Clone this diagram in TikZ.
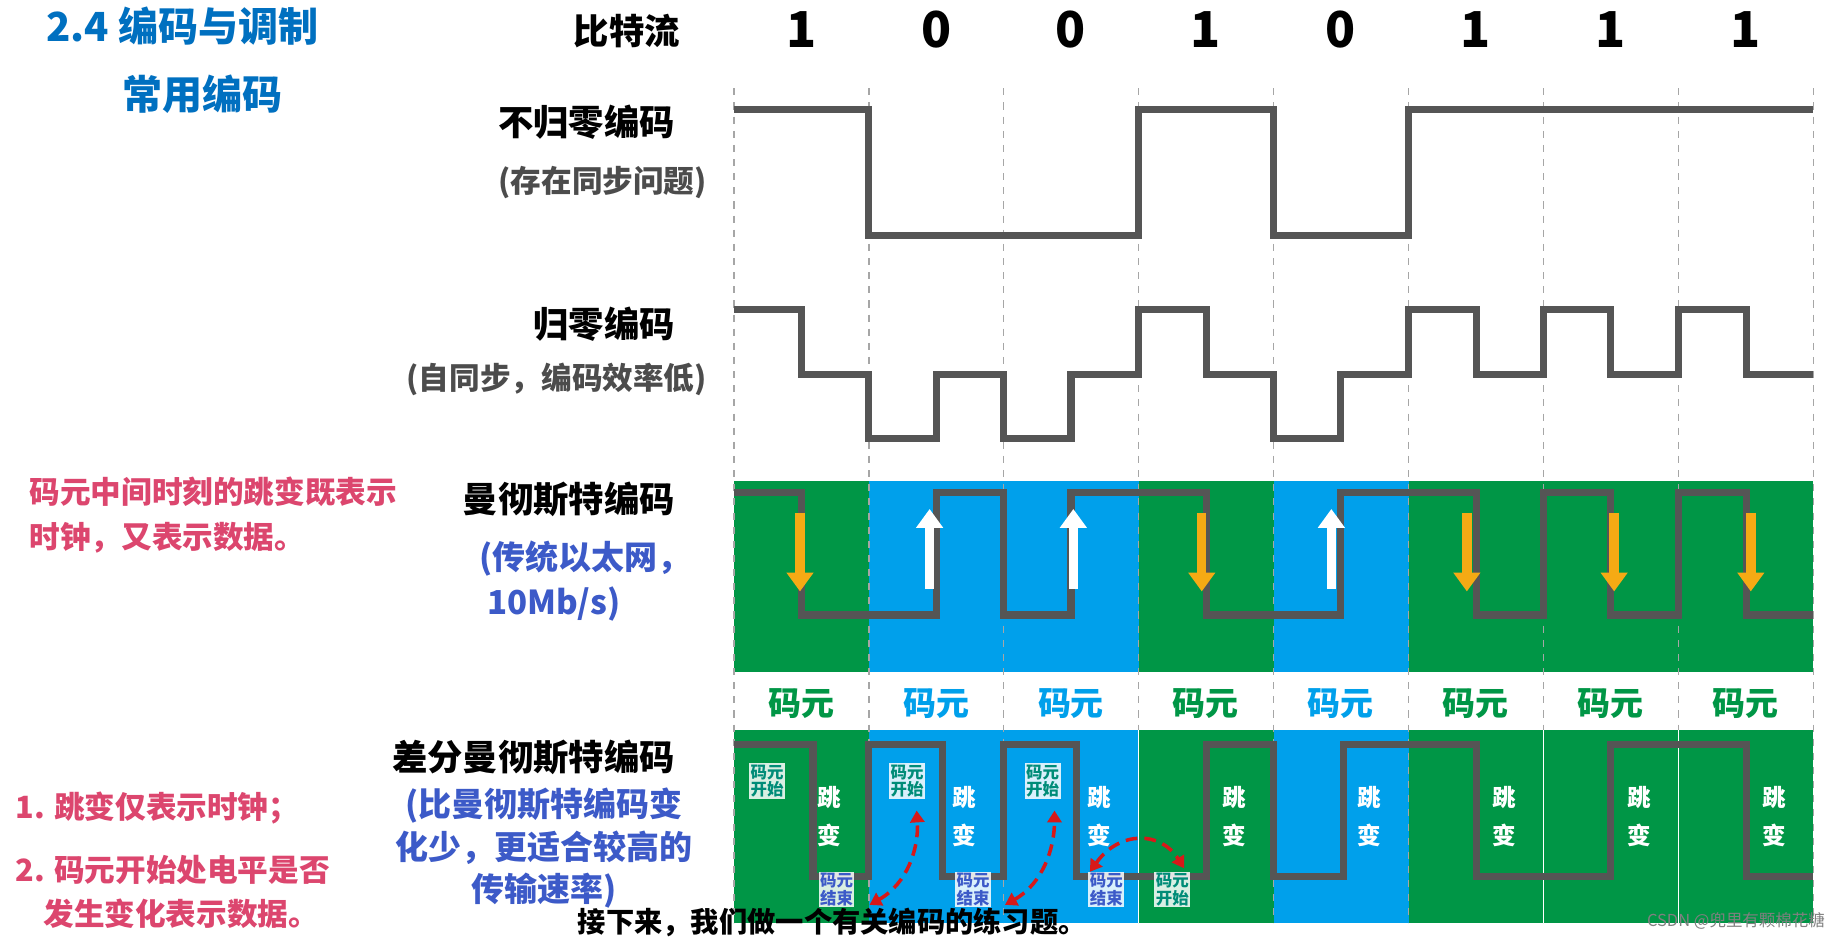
\documentclass[tikz,border=0pt]{standalone}
\usepackage{fontspec}
\setmainfont{Noto Sans CJK SC}
\usetikzlibrary{arrows.meta}
\definecolor{tblue}{RGB}{0,112,192}
\definecolor{bgreen}{RGB}{0,150,70}
\definecolor{bblue}{RGB}{0,160,235}
\definecolor{wave}{RGB}{85,85,85}
\definecolor{pinkt}{RGB}{220,70,110}
\definecolor{labblue}{RGB}{60,90,200}
\definecolor{orng}{RGB}{245,170,20}
\definecolor{teal2}{RGB}{0,140,120}
\definecolor{redd}{RGB}{215,25,25}
\tikzset{
 mywv/.style={draw=wave,line width=3pt,line join=miter},
 mygrid/.style={draw=gray!70,dashed,line width=0.5pt},
 mylbl/.style={font=\bfseries\fontsize{15}{18}\selectfont,anchor=east},
 mysub/.style={font=\bfseries\fontsize{13}{16}\selectfont,text=black!70,anchor=east},
 mybit/.style={font=\bfseries\fontsize{21}{24}\selectfont},
 myarrd/.style={draw=orng,line width=4pt,-{Triangle[width=11pt,length=8pt]}},
 myarru/.style={draw=white,line width=4pt,-{Triangle[width=11pt,length=8pt]}},
 myjb/.style={font=\bfseries\fontsize{10}{14}\selectfont,text=white,align=center},
 mysmall/.style={font=\bfseries\fontsize{7}{7.5}\selectfont,align=center,fill=white,fill opacity=0.85,text opacity=1,inner sep=0.6pt},
 myred/.style={draw=redd,line width=1.5pt,dash pattern=on 5pt off 3pt,{Triangle[width=6pt,length=5pt]}-{Triangle[width=6pt,length=5pt]}},
 myml/.style={font=\bfseries\fontsize{13}{19}\selectfont,align=left,anchor=west}
}
\begin{document}
\begin{tikzpicture}[x=0.5pt,y=-0.5pt]
\useasboundingbox (0,0) rectangle (1560,795);
\clip (0,0) rectangle (1560,795);
\fill[white] (0,0) rectangle (1560,795);
\foreach \i/\b/\cc in {0/1/bgreen,1/0/bblue,2/0/bblue,3/1/bgreen,4/0/bblue,5/1/bgreen,6/1/bgreen,7/1/bgreen}{
  \pgfmathsetmacro{\xl}{623+114.5*\i}
  \pgfmathsetmacro{\xr}{\xl+114.5}
  \fill[\cc] (\xl,408) rectangle (\xr,570);
  \fill[\cc] (\xl,620) rectangle (\xr,783);
}
\foreach \i in {0,...,8}{\draw[mygrid] (623+114.5*\i,75) -- (623+114.5*\i,783);}
\foreach \i in {3,6,7}{\draw[white,line width=0.6pt] (623+114.5*\i,620) -- (623+114.5*\i,783);}
\foreach \i/\b/\cc in {0/1/bgreen,1/0/bblue,2/0/bblue,3/1/bgreen,4/0/bblue,5/1/bgreen,6/1/bgreen,7/1/bgreen}{
  \pgfmathsetmacro{\xm}{623+114.5*\i+57}
  \node[mybit] at (\xm,25) {\b};
  \node[font=\bfseries\fontsize{14}{16}\selectfont,text=\cc] at (\xm,597) {码元};
  \node[myjb] at (\xm+24,693) {跳\\[2pt]变};
}
\node[font=\bfseries\fontsize{17}{20}\selectfont,text=tblue,anchor=west] at (32,22) {2.4 编码与调制};
\node[font=\bfseries\fontsize{17}{20}\selectfont,text=tblue] at (172,80) {常用编码};
\node[font=\bfseries\fontsize{15}{18}\selectfont] at (532,26) {比特流};
\node[mylbl] (l1) at (580,104) {不归零编码};
\node[mysub] at (607,155) {(存在同步问题)};
\node[mylbl] (l2) at (580,275) {归零编码};
\node[mysub] at (607,322) {(自同步，编码效率低)};
\node[mylbl] (l3) at (580,424) {曼彻斯特编码};
\node[font=\bfseries\fontsize{14}{19}\selectfont,text=labblue,align=left,anchor=north west] at (400,452) {(传统以太网，\\\ 10Mb/s)};
\node[mylbl] (l4) at (580,643) {差分曼彻斯特编码};
\node[font=\bfseries\fontsize{14}{18}\selectfont,text=labblue,align=center] at (462,720) {(比曼彻斯特编码变\\化少，更适合较高的\\传输速率)};
\node[myml,text=pinkt] at (18,437) {码元中间时刻的跳变既表示\\时钟，又表示数据。};
\node[myml,text=pinkt] at (6,686) {1. 跳变仅表示时钟；};
\node[myml,text=pinkt] at (6,757) {2. 码元开始处电平是否\\\ \ \ \ 发生变化表示数据。};
\draw[mywv] (623,93)--(737.5,93)--(737.5,200)--(966.5,200)--(966.5,93)--(1081,93)--(1081,200)--(1195.5,200)--(1195.5,93)--(1539,93);
\draw[mywv] (623,263)--(680,263)--(680,318)--(737.5,318)--(737.5,372)--(795,372)--(795,318)--(852,318)--(852,372)--(909,372)--(909,318)--(966.5,318)--(966.5,263)--(1024,263)--(1024,318)--(1081,318)--(1081,372)--(1138,372)--(1138,318)--(1195.5,318)--(1195.5,263)--(1253,263)--(1253,318)--(1310,318)--(1310,263)--(1367,263)--(1367,318)--(1424.5,318)--(1424.5,263)--(1482,263)--(1482,318)--(1539,318);
\draw[mywv] (623,418)--(680,418)--(680,522)--(795,522)--(795,418)--(852,418)--(852,522)--(909,522)--(909,418)--(1024,418)--(1024,522)--(1138,522)--(1138,418)--(1253,418)--(1253,522)--(1310,522)--(1310,418)--(1367,418)--(1367,522)--(1424.5,522)--(1424.5,418)--(1482,418)--(1482,522)--(1539,522);
\draw[mywv] (623,632)--(690,632)--(690,744)--(737.5,744)--(737.5,632)--(800,632)--(800,744)--(852,744)--(852,632)--(914,632)--(914,744)--(1024,744)--(1024,632)--(1081,632)--(1081,744)--(1140,744)--(1140,632)--(1253,632)--(1253,744)--(1367,744)--(1367,632)--(1482,632)--(1482,744)--(1539,744);
\foreach \x in {679,1020,1245,1370,1486}{\draw[myarrd] (\x,435) -- (\x,502);}
\foreach \x in {789,911,1130}{\draw[myarru] (\x,500) -- (\x,432);}
\node[mysmall,text=teal2] (s1) at (651,663) {码元\\开始};
\node[mysmall,text=teal2] (s2) at (770,663) {码元\\开始};
\node[mysmall,text=teal2] (s3) at (885,663) {码元\\开始};
\node[mysmall,text=labblue] (e1) at (710,755) {码元\\结束};
\node[mysmall,text=labblue] (e2) at (826,755) {码元\\结束};
\node[mysmall,text=labblue] (e3) at (939,755) {码元\\结束};
\node[mysmall,text=teal2] (s4) at (995,755) {码元\\开始};
\draw[myred] (738,768) .. controls (770,750) and (780,720) .. (778,688);
\draw[myred] (853,768) .. controls (885,750) and (895,720) .. (895,688);
\draw[myred] (925,740) .. controls (950,705) and (985,705) .. (1005,737);
\node[font=\bfseries\fontsize{12}{13}\selectfont,text=black,anchor=south west,inner sep=0pt] at (490,796) {接下来，我们做一个有关编码的练习题。};
\node[font=\fontsize{7}{8}\selectfont,text=gray,anchor=east] at (1556,782) {CSDN @兜里有颗棉花糖};
\end{tikzpicture}
\end{document}
